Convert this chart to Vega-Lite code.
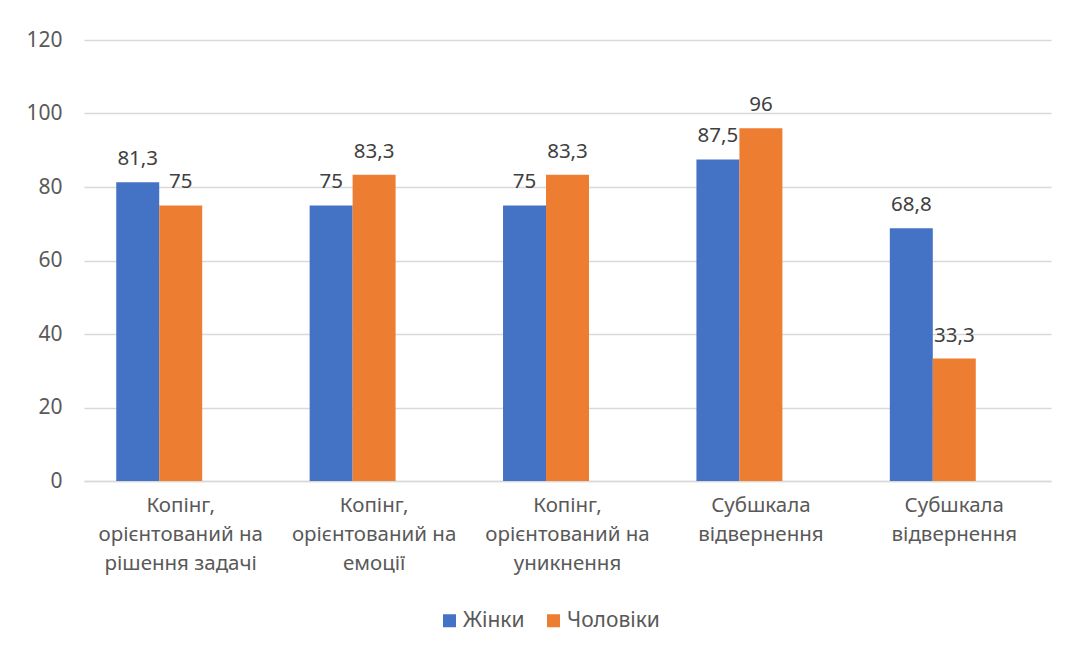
{
  "$schema": "https://vega.github.io/schema/vega-lite/v6.json",
  "width": 967,
  "height": 441,
  "autosize": {"type": "none"},
  "padding": {"left": 84, "top": 40, "right": 16, "bottom": 173},
  "background": "white",
  "config": {
    "font": "Noto Sans",
    "view": {"stroke": null},
    "locale": {
      "number": {"decimal": ",", "thousands": " ", "grouping": [3], "currency": ["", " грн"]}
    }
  },
  "data": {
    "values": [
      {"scale": "Копінг,|орієнтований на|рішення задачі", "group": "Жінки", "value": 81.3},
      {"scale": "Копінг,|орієнтований на|рішення задачі", "group": "Чоловіки", "value": 75},
      {"scale": "Копінг,|орієнтований на|емоції", "group": "Жінки", "value": 75},
      {"scale": "Копінг,|орієнтований на|емоції", "group": "Чоловіки", "value": 83.3},
      {"scale": "Копінг,|орієнтований на|уникнення", "group": "Жінки", "value": 75},
      {"scale": "Копінг,|орієнтований на|уникнення", "group": "Чоловіки", "value": 83.3},
      {"scale": "Субшкала|відвернення", "group": "Жінки", "value": 87.5},
      {"scale": "Субшкала|відвернення", "group": "Чоловіки", "value": 96},
      {"scale": "Субшкала|відвернення| ", "group": "Жінки", "value": 68.8},
      {"scale": "Субшкала|відвернення| ", "group": "Чоловіки", "value": 33.3}
    ]
  },
  "encoding": {
    "x": {
      "field": "scale",
      "type": "nominal",
      "sort": null,
      "scale": {"paddingInner": 0.3333, "paddingOuter": 0.1667},
      "axis": {
        "title": null,
        "labelAngle": 0,
        "labelExpr": "split(datum.label, '|')",
        "labelFontSize": 20.5,
        "labelColor": "#595959",
        "labelLineHeight": 29,
        "labelBaseline": "top",
        "labelPadding": 14,
        "labelLimit": 400,
        "ticks": false,
        "domainColor": "#d9d9d9",
        "domainWidth": 1.5
      }
    },
    "xOffset": {
      "field": "group",
      "type": "nominal",
      "scale": {"domain": ["Жінки", "Чоловіки", "_"], "paddingInner": 0, "paddingOuter": 0}
    },
    "y": {
      "field": "value",
      "type": "quantitative",
      "scale": {"domain": [0, 120], "nice": false},
      "axis": {
        "title": null,
        "values": [0, 20, 40, 60, 80, 100, 120],
        "labelFontSize": 21,
        "labelColor": "#595959",
        "labelPadding": 22,
        "ticks": false,
        "domain": false,
        "gridColor": "#d9d9d9",
        "gridWidth": 1.5
      }
    }
  },
  "layer": [
    {
      "mark": {"type": "bar"},
      "encoding": {
        "color": {
          "field": "group",
          "type": "nominal",
          "scale": {"domain": ["Жінки", "Чоловіки"], "range": ["#4472C4", "#ED7D31"]},
          "legend": {
            "title": null,
            "orient": "none",
            "direction": "horizontal",
            "legendX": 355,
            "legendY": 570,
            "symbolType": "square",
            "symbolSize": 169,
            "symbolStrokeWidth": 0,
            "labelFontSize": 21,
            "labelColor": "#595959",
            "labelOffset": 3,
            "columnPadding": 18
          }
        }
      }
    },
    {
      "mark": {"type": "text", "baseline": "alphabetic", "dy": -17, "fontSize": 20.5, "color": "#404040"},
      "encoding": {
        "text": {"field": "value", "type": "quantitative", "format": ".1~f"}
      }
    }
  ]
}
